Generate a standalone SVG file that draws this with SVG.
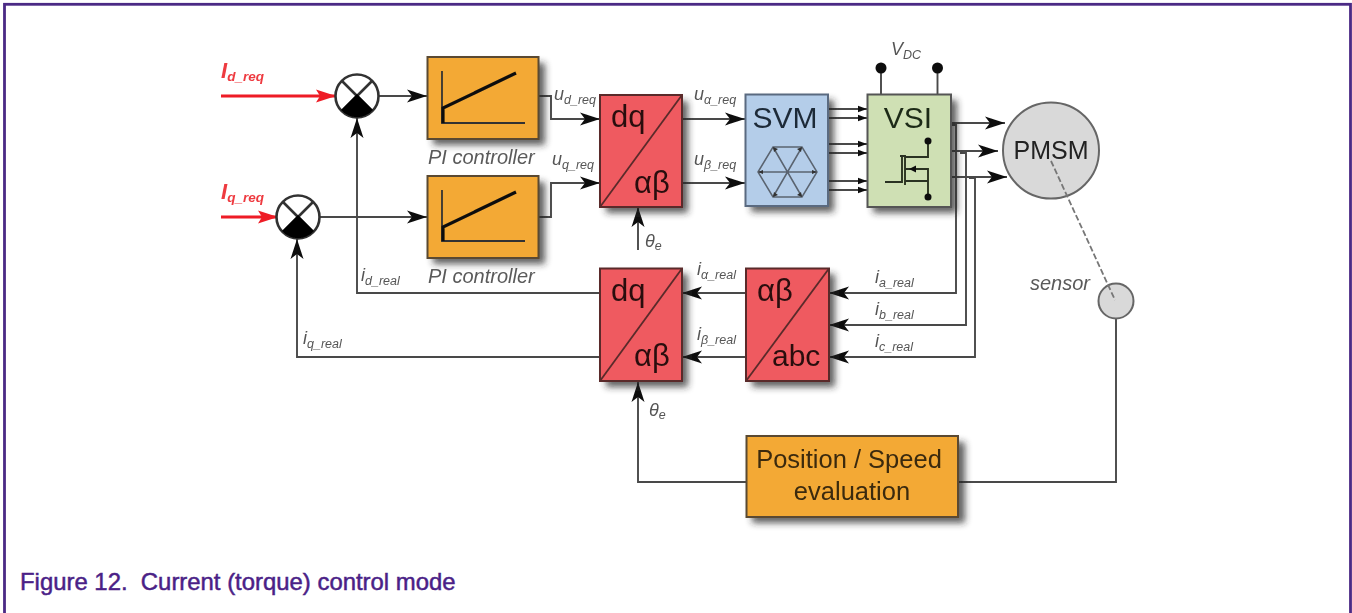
<svg xmlns="http://www.w3.org/2000/svg" width="1352" height="613" viewBox="0 0 1352 613">
<style>
text{font-family:"Liberation Sans",Arial,sans-serif}
.lb{font-style:italic;fill:#555;font-size:18px}
.lb tspan{font-size:12.5px}
.big{fill:#2a1010;font-size:31px}
.mid{fill:#3a2a10;font-size:25.5px}
.pi{font-style:italic;fill:#5a5a5a;font-size:20px}
.red{fill:#ef5a60;stroke:#5a2a2a;stroke-width:2}
.or{fill:#f3a935;stroke:#5a4a30;stroke-width:2}
.w{fill:none;stroke:#4a4a4a;stroke-width:1.900}
.a{marker-end:url(#ah)}
.s{marker-end:url(#sm)}
.rw{fill:none;stroke:#ee1c25;stroke-width:2.800;marker-end:url(#rh)}
.sh{fill:#222;opacity:.72;filter:url(#sh)}
</style>
<defs>
<filter id="sh" x="-20%" y="-20%" width="150%" height="150%"><feGaussianBlur stdDeviation="3.500"/></filter>
<filter id="soft" filterUnits="userSpaceOnUse" x="0" y="0" width="1352" height="613"><feGaussianBlur stdDeviation="0.550"/></filter>
<marker id="ah" markerUnits="userSpaceOnUse" markerWidth="22" markerHeight="16" refX="20" refY="8" orient="auto"><path d="M0 1.500L20 8L0 14.500L5 8Z" fill="#111"/></marker>
<marker id="sm" markerUnits="userSpaceOnUse" markerWidth="10" markerHeight="8" refX="9" refY="4" orient="auto"><path d="M0 .8L9 4L0 7.200Z" fill="#111"/></marker>
<marker id="rh" markerUnits="userSpaceOnUse" markerWidth="22" markerHeight="16" refX="20" refY="8" orient="auto"><path d="M0 1.500L20 8L0 14.500L4 8Z" fill="#ee1c25"/></marker>
</defs>
<rect x="4.500" y="4.300" width="1346" height="660" fill="#fff" stroke="#4b2a85" stroke-width="2.800"/>

<g filter="url(#soft)">
<g id="connectors">
<path class="rw" d="M221 96H336"/>
<path class="rw" d="M221 217H278"/>
<path class="w a" d="M379 96H427"/>
<path class="w a" d="M320 217H427"/>
<path class="w a" d="M539 96H551V119H600"/>
<path class="w a" d="M539 217H551V183H600"/>
<path class="w a" d="M682 119H745"/>
<path class="w a" d="M682 183H745"/>
<path class="w a" d="M638 250V207"/>
<path class="w a" d="M600 293H357V118"/>
<path class="w a" d="M600 357H297V239"/>
<path class="w a" d="M746 293H682"/>
<path class="w a" d="M746 357H682"/>
<path class="w a" d="M951 125H956V293H829"/>
<path class="w a" d="M960 153H966V325H829"/>
<path class="w a" d="M969 178H975V357H829"/>
<path class="w a" d="M951 123H1005"/>
<path class="w a" d="M951 151H998"/>
<path class="w a" d="M951 177H1007"/>
<path class="w s" d="M828 109H867"/>
<path class="w s" d="M828 118H867"/>
<path class="w s" d="M828 144H867"/>
<path class="w s" d="M828 153H867"/>
<path class="w s" d="M828 181H867"/>
<path class="w s" d="M828 190H867"/>
<path class="w" d="M881 68V95M937.500 68V95"/>
<path class="w a" d="M746 482H638V382"/>
<path class="w" d="M959 482H1116V319"/>
</g>

<g id="sum1">
<circle cx="357" cy="96" r="21.500" fill="#fff" stroke="#333" stroke-width="2.600"/>
<path d="M342 81L372 111M372 81L342 111" stroke="#333" stroke-width="2.600"/>
<path d="M357 94L341 110A21.500 21.500 0 0 0 373 110Z" fill="#000"/>
</g>
<g id="sum2">
<circle cx="298" cy="217" r="21.500" fill="#fff" stroke="#333" stroke-width="2.600"/>
<path d="M283 202L313 232M313 202L283 232" stroke="#333" stroke-width="2.600"/>
<path d="M298 215L282 231A21.500 21.500 0 0 0 314 231Z" fill="#000"/>
</g>

<g id="pi1">
<rect class="sh" x="433" y="63" width="112" height="82"/>
<rect class="or" x="427.500" y="57" width="111" height="82"/>
<path d="M442 71V123H525" fill="none" stroke="#333" stroke-width="1.800"/>
<path d="M443 123V108L516 73" fill="none" stroke="#111" stroke-width="3.200"/>
</g>
<g id="pi2">
<rect class="sh" x="433" y="182" width="112" height="82"/>
<rect class="or" x="427.500" y="176" width="111" height="82"/>
<path d="M442 190V241H525" fill="none" stroke="#333" stroke-width="1.800"/>
<path d="M443 241V227L516 192" fill="none" stroke="#111" stroke-width="3.200"/>
</g>

<g id="dq1">
<rect class="sh" x="606" y="101" width="82" height="112"/>
<rect class="red" x="600" y="95" width="82" height="112"/>
<path d="M600 207L682 95" stroke="#5a2a2a" stroke-width="1.800"/>
<text class="big" x="611" y="127">dq</text>
<text class="big" x="634" y="193">αβ</text>
</g>
<g id="svm">
<rect class="sh" x="751" y="100" width="83" height="112"/>
<rect x="745.500" y="94.500" width="82.500" height="111.500" fill="#b4cde9" stroke="#5a6a80" stroke-width="2"/>
<text x="785" y="127.500" text-anchor="middle" font-size="30" fill="#1f2a38">SVM</text>
<path d="M758 172L773 147H802L817 172L802 197H773ZM758 172H817M773 147L802 197M802 147L773 197" fill="none" stroke="#5a6470" stroke-width="1.500"/>
<path d="M758 172l5 -2v4zM817 172l-5 -2v4zM773 147l1 5l4 -3zM802 147l-1 5l-4 -3zM773 197l1 -5l4 3zM802 197l-1 -5l-4 3z" fill="#333"/>
</g>
<g id="vsi">
<rect class="sh" x="873" y="100" width="84" height="113"/>
<rect x="867.500" y="94.500" width="83.500" height="112.500" fill="#cfe0b4" stroke="#555" stroke-width="2"/>
<text x="908" y="127.500" text-anchor="middle" font-size="30" fill="#1e2a18">VSI</text>
<path d="M885 182H902V156M900 156H905M905 157H928V141M905 169H928V197M905 181H928M905 155V185" fill="none" stroke="#2a3320" stroke-width="1.900"/>
<path d="M909 169l7 -3.500v7z" fill="#111"/>
<circle cx="928" cy="141" r="3.500" fill="#111"/>
<circle cx="928" cy="197" r="3.500" fill="#111"/>
<circle cx="881" cy="68" r="5.500" fill="#111"/>
<circle cx="937.500" cy="68" r="5.500" fill="#111"/>
</g>
<g id="pmsm">
<circle cx="1051" cy="150.500" r="48" fill="#d9d9d9" stroke="#666" stroke-width="2"/>
<text x="1051" y="158.500" text-anchor="middle" font-size="25" fill="#222">PMSM</text>
</g>
<g id="sensor">
<circle cx="1116" cy="301" r="17.500" fill="#d9d9d9" stroke="#666" stroke-width="2"/>
</g>
<path d="M1051 161L1115 300" fill="none" stroke="#777" stroke-width="1.800" stroke-dasharray="6 2.500"/>
<g id="dq2">
<rect class="sh" x="606" y="274" width="82" height="113"/>
<rect class="red" x="600" y="268.500" width="82" height="112.500"/>
<path d="M600 381L682 268.500" stroke="#5a2a2a" stroke-width="1.800"/>
<text class="big" x="611" y="301">dq</text>
<text class="big" x="634" y="366">αβ</text>
</g>
<g id="abc">
<rect class="sh" x="752" y="274" width="83" height="113"/>
<rect class="red" x="746" y="268.500" width="83" height="112.500"/>
<path d="M746 381L829 268.500" stroke="#5a2a2a" stroke-width="1.800"/>
<text class="big" x="757" y="301">αβ</text>
<text class="big" x="772" y="366" style="font-size:30px">abc</text>
</g>
<g id="pos">
<rect class="sh" x="752" y="442" width="213" height="81"/>
<rect class="or" x="746.500" y="436" width="211.500" height="81"/>
<text class="mid" x="849" y="468" text-anchor="middle">Position / Speed</text>
<text class="mid" x="852" y="500" text-anchor="middle">evaluation</text>
</g>

<g id="labels">
<text x="221" y="78" font-size="22" font-style="italic" font-weight="700" fill="#ee3a40">I<tspan font-size="13.500" dy="3">d_req</tspan></text>
<text x="221" y="199" font-size="22" font-style="italic" font-weight="700" fill="#ee3a40">I<tspan font-size="13.500" dy="3">q_req</tspan></text>
<text class="lb" x="554" y="100">u<tspan dy="4">d_req</tspan></text>
<text class="lb" x="552" y="165">u<tspan dy="4">q_req</tspan></text>
<text class="lb" x="694" y="100">u<tspan dy="4">α_req</tspan></text>
<text class="lb" x="694" y="165">u<tspan dy="4">β_req</tspan></text>
<text class="pi" x="428" y="164">PI controller</text>
<text class="pi" x="428" y="283">PI controller</text>
<text class="lb" x="891" y="55">V<tspan dy="4">DC</tspan></text>
<text class="lb" x="645" y="247">θ<tspan dy="3">e</tspan></text>
<text class="lb" x="649" y="416">θ<tspan dy="3">e</tspan></text>
<text class="lb" x="361" y="281">i<tspan dy="4">d_real</tspan></text>
<text class="lb" x="303" y="344">i<tspan dy="4">q_real</tspan></text>
<text class="lb" x="697" y="275">i<tspan dy="4">α_real</tspan></text>
<text class="lb" x="697" y="340">i<tspan dy="4">β_real</tspan></text>
<text class="lb" x="875" y="283">i<tspan dy="4">a_real</tspan></text>
<text class="lb" x="875" y="315">i<tspan dy="4">b_real</tspan></text>
<text class="lb" x="875" y="347">i<tspan dy="4">c_real</tspan></text>
<text class="pi" x="1030" y="290">sensor</text>
</g>
</g>
<text x="20" y="590" font-size="23.900" fill="#4b1f87" stroke="#4b1f87" stroke-width=".5" style="white-space:pre">Figure 12.  Current (torque) control mode</text>
</svg>
